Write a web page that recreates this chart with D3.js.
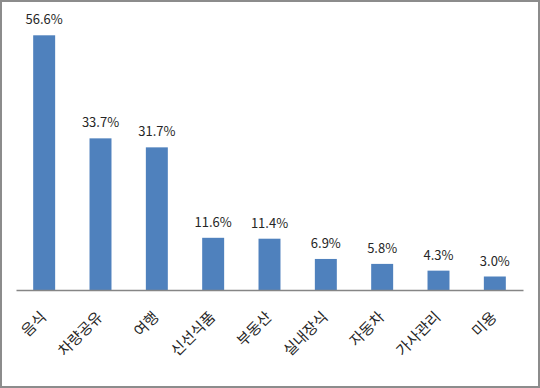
<!DOCTYPE html>
<html>
<head>
<meta charset="utf-8">
<script src="https://cdn.jsdelivr.net/npm/d3@7"></script>
<style>
  html, body { margin: 0; padding: 0; background: #fff; }
  svg { display: block; }
</style>
</head>
<body>
<div id="chart"></div>
<script>
const categories = ['음식', '차량공유', '여행', '신선식품', '부동산', '실내장식', '자동차', '가사관리', '미용'];
const values = [56.6, 33.7, 31.7, 11.6, 11.4, 6.9, 5.8, 4.3, 3.0];

const width = 540;
const height = 388;
const margin = { top: 20, right: 17, bottom: 98, left: 16 };

const svg = d3.select('#chart')
  .append('svg')
  .attr('width', width)
  .attr('height', height);

// outer frame
svg.append('rect')
  .attr('x', 1)
  .attr('y', 1)
  .attr('width', width - 2)
  .attr('height', height - 2)
  .attr('fill', '#fff')
  .attr('stroke', '#8c8c8c')
  .attr('stroke-width', 2);

const x = d3.scaleBand()
  .domain(categories)
  .range([margin.left, width - margin.right])
  .paddingInner(0.61)
  .paddingOuter(0.305);

const y = d3.scaleLinear()
  .domain([0, 60])
  .range([height - margin.bottom, margin.top]);

const g = svg.append('g');

g.selectAll('rect.bar')
  .data(values)
  .enter()
  .append('rect')
  .attr('class', 'bar')
  .attr('x', (d, i) => x(categories[i]))
  .attr('y', (d) => y(d))
  .attr('width', x.bandwidth())
  .attr('height', (d) => y(0) - y(d))
  .attr('fill', '#4f81bd');

g.selectAll('text.val')
  .data(values)
  .enter()
  .append('text')
  .attr('class', 'val')
  .attr('x', (d, i) => x(categories[i]) + x.bandwidth() / 2)
  .attr('y', (d) => y(d) - 11)
  .attr('text-anchor', 'middle')
  .attr('font-family', '"Noto Sans CJK KR", "Noto Sans", sans-serif')
  .attr('font-size', 13)
  .attr('fill', '#262626')
  .text((d) => d.toFixed(1) + '%');

// x axis line
const xAxis = d3.axisBottom(x).tickSize(0).tickPadding(0);
const axisG = svg.append('g')
  .attr('transform', `translate(0,${y(0)})`)
  .call(xAxis);

axisG.select('.domain')
  .attr('stroke', '#868686')
  .attr('stroke-width', 1.5);

axisG.selectAll('text')
  .attr('font-family', '"Noto Sans CJK KR", sans-serif')
  .attr('font-size', 15)
  .attr('fill', '#262626')
  .attr('text-anchor', 'end')
  .attr('dy', null)
  .attr('y', 0)
  .attr('transform', 'translate(3,28) rotate(-45)');
</script>
</body>
</html>
